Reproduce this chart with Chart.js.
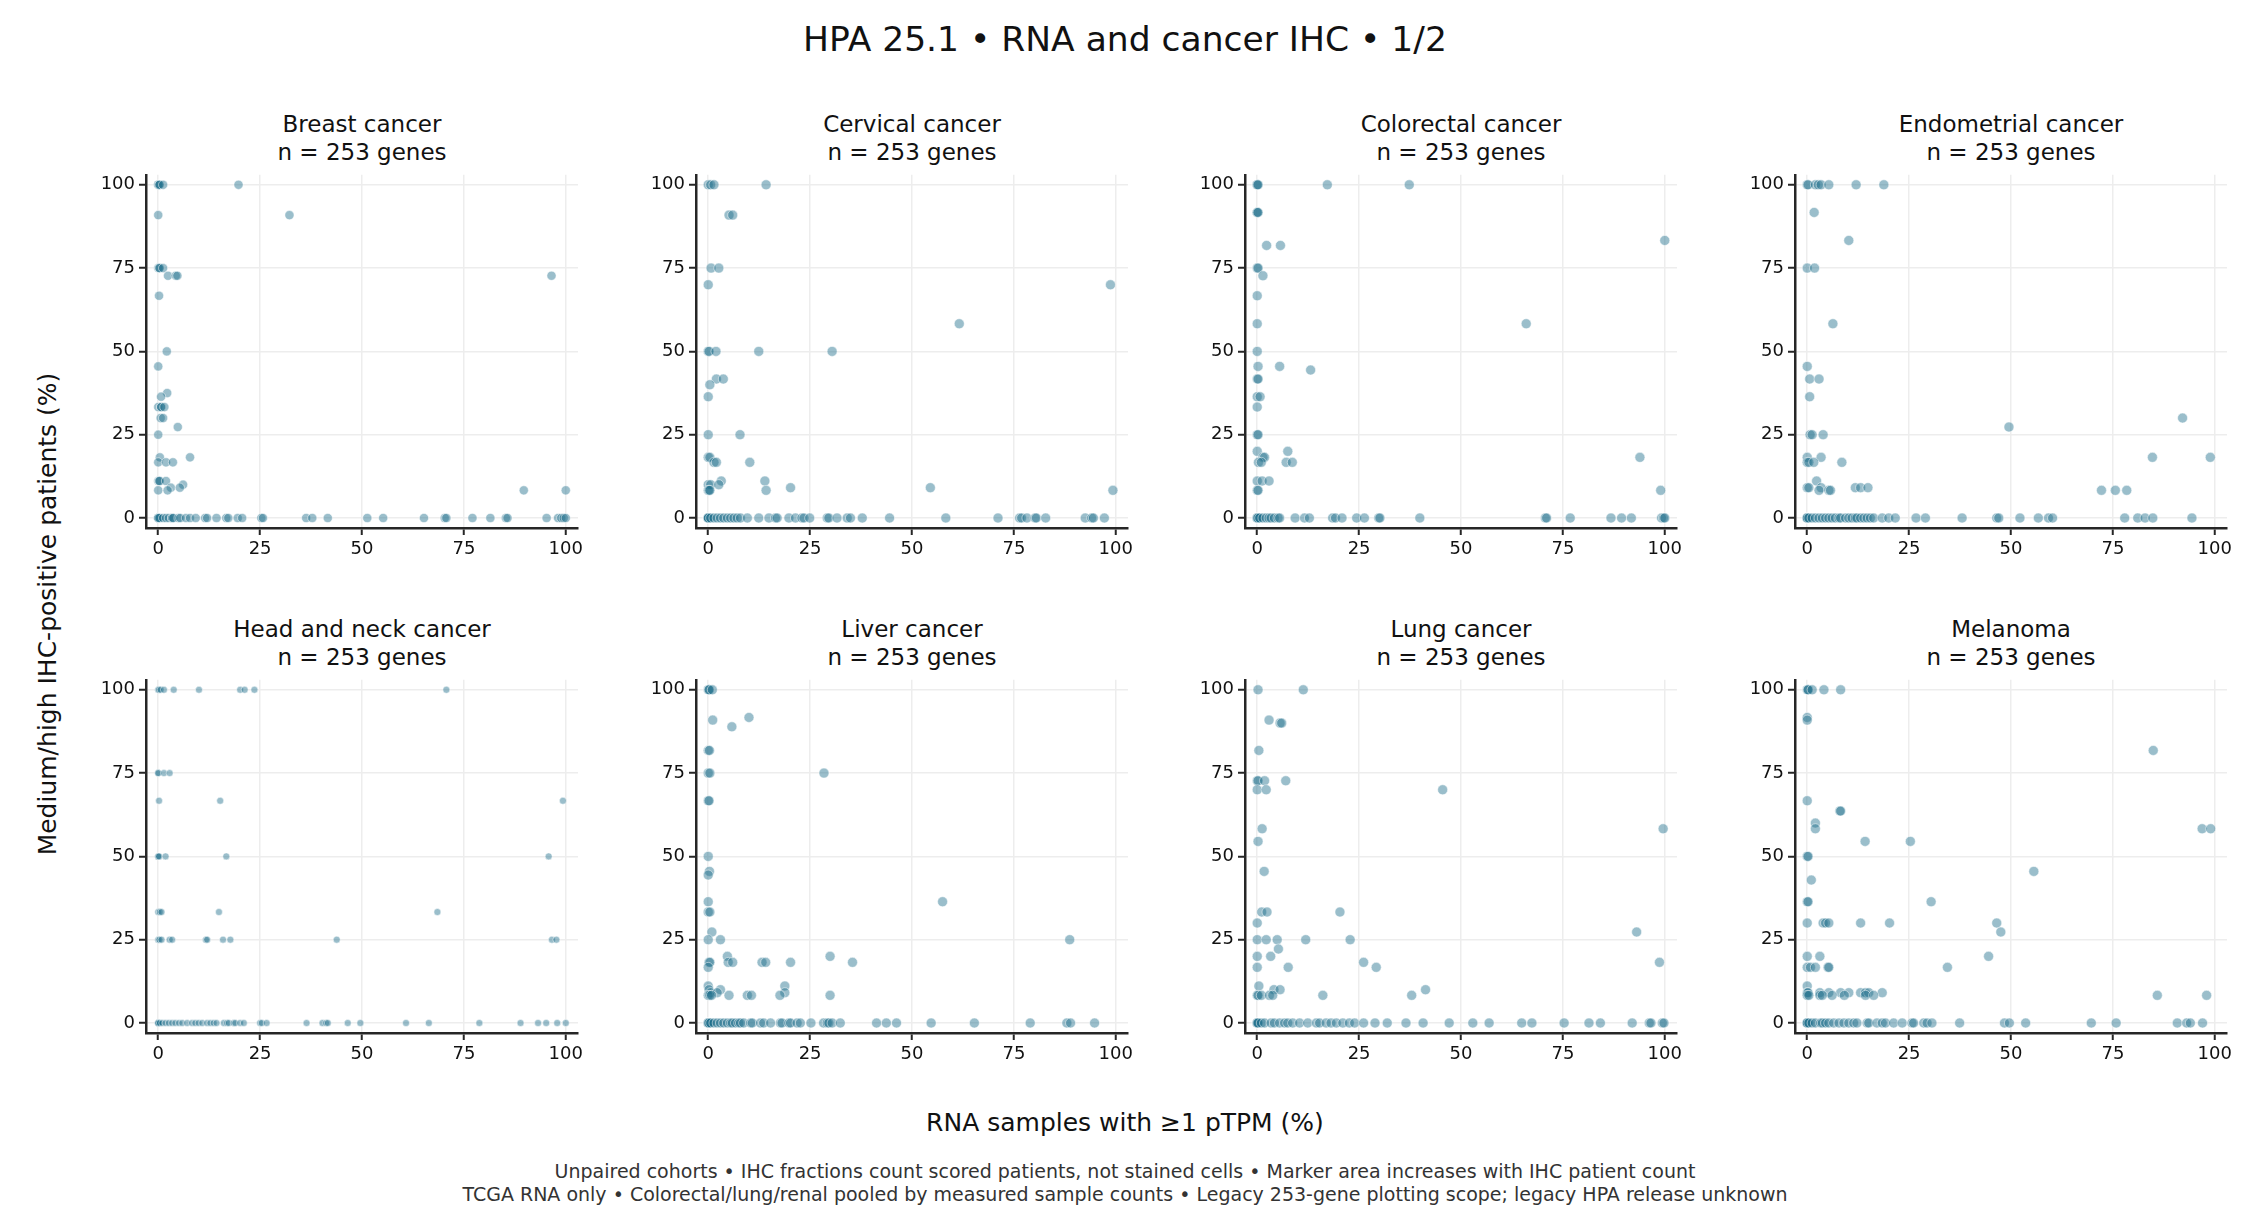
<!DOCTYPE html>
<html>
<head>
<meta charset="utf-8">
<script src="https://cdn.jsdelivr.net/npm/chart.js@4.4.1/dist/chart.umd.min.js"></script>
<style>
  body { margin: 0; background: #fff; font-family: "DejaVu Sans", sans-serif; }
  #fig { position: relative; width: 2250px; height: 1230px; overflow: hidden; background: #fff; }
  .t { position: absolute; white-space: nowrap; transform: translate(-50%, -50%); color: #111; text-align: center; }
  canvas { position: absolute; }
</style>
</head>
<body>
<div id="fig">
  <div class="t" style="left:1125px;top:39px;font-size:34.5px">HPA 25.1 • RNA and cancer IHC • 1/2</div>
  <div class="t" style="left:47px;top:614px;font-size:25px;transform:translate(-50%,-50%) rotate(-90deg)">Medium/high IHC-positive patients (%)</div>
  <div class="t" style="left:1125px;top:1122px;font-size:25px">RNA samples with ≥1 pTPM (%)</div>
  <div class="t" style="left:1125px;top:1171px;font-size:19px;color:#333">Unpaired cohorts • IHC fractions count scored patients, not stained cells • Marker area increases with IHC patient count</div>
  <div class="t" style="left:1125px;top:1194px;font-size:19px;color:#333">TCGA RNA only • Colorectal/lung/renal pooled by measured sample counts • Legacy 253-gene plotting scope; legacy HPA release unknown</div>
</div>
<script>
// panel titles
const cancers = ['Breast cancer', 'Cervical cancer', 'Colorectal cancer', 'Endometrial cancer',
                 'Head and neck cancer', 'Liver cancer', 'Lung cancer', 'Melanoma'];
const geneCounts = [253, 253, 253, 253, 253, 253, 253, 253];
const tickValues = [0, 25, 50, 75, 100];

// [RNA samples with >=1 pTPM (%), IHC-positive patients (%)]
const breast = [
  [0,100],[0,100],[0.3,100],[0.3,100],[1.2,100],[19.7,100],
  [0,90.9],[32.2,90.9],
  [0,75],[0.3,75],[0.3,75],[1.2,75],
  [2.4,72.7],[4.3,72.7],[4.7,72.7],[96.5,72.7],
  [0.2,66.7],[2.1,50],[0,45.5],
  [2.2,37.5],[0.7,36.4],
  [0,33.3],[0.7,33.3],[0.7,33.3],[1.5,33.3],
  [0.6,30],[1.2,30],[4.8,27.3],[0,25],
  [0.4,18.2],[7.8,18.2],
  [0,16.7],[1.9,16.7],[3.6,16.7],
  [0,11.1],[0.3,11.1],[0.3,11.1],[1.9,11.1],
  [6.1,10],[3.1,9.1],[5.3,9.1],
  [0,8.3],[2.3,8.3],[89.7,8.3],[100,8.3],
  [0,0],[0,0],[0,0],[0,0],[0.3,0],[1.2,0],[1.9,0],[2.6,0],[3.4,0],[3.4,0],[3.7,0],[5.0,0],
  [5.4,0],[6.8,0],[7.8,0],[9.2,0],[11.5,0],[12.0,0],[14.3,0],[16.7,0],[17.2,0],[19.5,0],
  [20.6,0],[25.3,0],[25.7,0],[36.3,0],[37.8,0],[41.6,0],[51.3,0],[55.2,0],[65.2,0],[70.3,0],
  [70.7,0],[77.1,0],[81.5,0],[85.3,0],[85.7,0],[95.3,0],[98.1,0],[98.9,0],[99.5,0],[100,0]
];
const cervical = [
  [0,100],[0.6,100],[1.4,100],[14.2,100],
  [5.1,90.9],[6.0,90.9],
  [0.7,75],[2.6,75],[0,70],[98.7,70],[61.6,58.3],
  [0,50],[0.2,50],[1.9,50],[12.4,50],[30.4,50],
  [2.0,41.7],[3.7,41.7],[0.4,40],[0,36.4],
  [0,25],[7.8,25],[0,18.2],[0.4,18.2],
  [1.4,16.7],[2.0,16.7],[10.2,16.7],
  [3.2,11.1],[13.9,11.1],
  [0,10],[0.6,10],[2.6,10],
  [20.2,9.1],[54.5,9.1],
  [0,8.3],[0.2,8.3],[0.4,8.3],[14.2,8.3],[99.3,8.3],
  [0,0],[0,0],[0,0],[0,0],[0.6,0],[1.4,0],[2.2,0],[3.0,0],[3.8,0],[4.7,0],[5.5,0],[6.3,0],
  [7.1,0],[7.9,0],[9.6,0],[12.4,0],[14.9,0],[16.5,0],[16.9,0],[19.8,0],[21.4,0],[23.0,0],
  [23.5,0],[24.9,0],[29.2,0],[29.6,0],[31.6,0],[34.1,0],[34.9,0],[37.8,0],[44.5,0],[58.3,0],
  [71.1,0],[76.4,0],[76.9,0],[78.2,0],[80.2,0],[80.5,0],[82.8,0],[92.5,0],[94.1,0],[94.5,0],[97.2,0]
];
const colorectal = [
  [0,100],[0,100],[0.2,100],[17.2,100],[37.3,100],
  [0,91.7],[0,91.7],[0.2,91.7],
  [100,83.3],[2.3,81.8],[5.7,81.8],
  [0,75],[0.2,75],[1.4,72.7],[0,66.7],
  [0,58.3],[66.0,58.3],[0,50],
  [0.2,45.5],[5.5,45.5],[13.1,44.4],
  [0,41.7],[0.2,41.7],[0,36.4],[0.7,36.4],[0,33.3],
  [0,25],[0.2,25],[0,20],[7.5,20],
  [1.4,18.2],[1.8,18.2],[93.9,18.2],
  [0.3,16.7],[1.0,16.7],[7.1,16.7],[8.6,16.7],
  [0,11.1],[1.2,11.1],[2.9,11.1],
  [0,8.3],[0.2,8.3],[99.0,8.3],
  [0,0],[0,0],[0,0],[0,0],[0.2,0],[0.6,0],[1.4,0],[2.2,0],[2.9,0],[3.4,0],[4.2,0],[5.1,0],
  [5.5,0],[9.3,0],[11.6,0],[12.8,0],[18.5,0],[19.2,0],[20.8,0],[24.4,0],[26.3,0],[29.8,0],
  [30.1,0],[39.9,0],[70.7,0],[71.0,0],[76.8,0],[86.8,0],[89.4,0],[91.8,0],[99.2,0],[99.7,0],[100,0]
];
const endometrial = [
  [0,100],[0.2,100],[2.0,100],[2.7,100],[3.4,100],[5.3,100],[12.0,100],[18.8,100],
  [1.7,91.7],[10.2,83.3],[0,75],[1.8,75],[6.3,58.3],[0,45.5],
  [0.6,41.7],[2.9,41.7],[0.6,36.4],[92.1,30],[49.5,27.3],
  [0.7,25],[1.2,25],[3.9,25],
  [0,18.2],[3.4,18.2],[84.7,18.2],[98.9,18.2],
  [0,16.7],[0.4,16.7],[1.6,16.7],[8.5,16.7],
  [2.3,11.1],
  [0,9.1],[0.4,9.1],[3.4,9.1],[11.8,9.1],[13.1,9.1],[14.9,9.1],
  [2.9,8.3],[5.3,8.3],[5.7,8.3],[72.2,8.3],[75.6,8.3],[78.4,8.3],
  [0,0],[0,0],[0,0],[0,0],[0.4,0],[1.2,0],[2.0,0],[2.9,0],[3.7,0],[4.5,0],[5.3,0],[6.1,0],
  [6.9,0],[7.8,0],[8.2,0],[9.4,0],[10.2,0],[11.0,0],[11.8,0],[12.2,0],[13.1,0],[13.9,0],
  [14.7,0],[15.5,0],[16.3,0],[18.4,0],[20.0,0],[21.6,0],[26.7,0],[29.0,0],[38.0,0],[46.5,0],
  [47.0,0],[52.2,0],[56.7,0],[59.2,0],[60.2,0],[77.9,0],[81.1,0],[82.9,0],[84.8,0],[94.4,0]
];
const headNeck = [
  [0,100],[0.2,100],[0.6,100],[1.4,100],[3.8,100],[10.0,100],[20.1,100],[21.2,100],[23.6,100],[70.7,100],
  [0,75],[0,75],[1.4,75],[2.8,75],
  [0.2,66.7],[15.2,66.7],[99.3,66.7],
  [0,50],[0,50],[0.2,50],[1.8,50],[16.7,50],[95.8,50],
  [0,33.3],[0.4,33.3],[0.8,33.3],[14.9,33.3],[68.5,33.3],
  [0,25],[0.3,25],[0.8,25],[2.8,25],[3.4,25],[11.7,25],[12.0,25],[15.9,25],[17.7,25],
  [43.8,25],[96.6,25],[97.7,25],
  [0,0],[0,0],[0,0],[0,0],[0.4,0],[1.0,0],[1.8,0],[2.6,0],[3.4,0],[4.2,0],[5.1,0],[5.9,0],
  [7.1,0],[8.3,0],[9.1,0],[9.9,0],[10.8,0],[12.0,0],[12.8,0],[13.6,0],[14.3,0],[16.1,0],
  [16.9,0],[17.3,0],[18.5,0],[18.9,0],[20.1,0],[21.0,0],[25.0,0],[25.4,0],[26.6,0],[36.4,0],
  [40.3,0],[41.2,0],[41.6,0],[46.5,0],[49.6,0],[60.8,0],[66.4,0],[78.8,0],[88.9,0],[93.2,0],
  [95.2,0],[97.9,0],[100,0]
];
const liver = [
  [0,100],[0.2,100],[0.2,100],[1.0,100],
  [10.0,91.7],[1.1,90.9],[5.8,88.9],
  [0,81.8],[0.3,81.8],[0,75],[0.4,75],[28.4,75],
  [0,66.7],[0.2,66.7],[0,50],[0.3,45.5],[0,44.4],
  [0,36.4],[57.5,36.4],[0,33.3],[0.4,33.3],[0.9,27.3],
  [0,25],[3.0,25],[88.7,25],[4.7,20],[29.9,20],
  [0.2,18.2],[0.4,18.2],[4.9,18.2],[6.0,18.2],[13.2,18.2],[14.1,18.2],[20.2,18.2],[35.4,18.2],
  [0,16.7],[0,11.1],[18.8,11.1],[0.2,10],[3.0,10],
  [0.6,9.1],[2.2,9.1],[18.8,9.1],
  [0,8.3],[0.4,8.3],[0.8,8.3],[5.1,8.3],[9.6,8.3],[10.6,8.3],[17.6,8.3],[29.9,8.3],
  [0,0],[0,0],[0,0],[0,0],[0.2,0],[0.6,0],[1.4,0],[2.2,0],[3.0,0],[3.8,0],[4.7,0],[5.5,0],
  [5.9,0],[6.7,0],[7.5,0],[7.9,0],[8.7,0],[10.4,0],[10.8,0],[12.8,0],[13.6,0],[15.3,0],
  [17.7,0],[18.1,0],[19.8,0],[20.2,0],[21.8,0],[22.6,0],[25.2,0],[28.3,0],[29.2,0],[29.6,0],
  [30.4,0],[32.4,0],[41.3,0],[43.7,0],[46.2,0],[54.7,0],[65.3,0],[79.0,0],[88.0,0],[88.9,0],[94.8,0]
];
const lung = [
  [0.2,100],[11.3,100],[2.9,90.9],[5.6,90],[6.0,90],[0.4,81.8],
  [0,72.7],[0.2,72.7],[1.8,72.7],[7.0,72.7],
  [0,70],[2.2,70],[45.5,70],[1.2,58.3],[99.6,58.3],[0.2,54.5],[1.7,45.5],
  [1.1,33.3],[2.4,33.3],[20.3,33.3],[0,30],
  [0,25],[2.2,25],[4.9,25],[11.9,25],[22.8,25],[93.1,27.3],[5.2,22.2],
  [0,20],[3.3,20],[26.1,18.2],[98.7,18.2],
  [0,16.7],[7.6,16.7],[29.2,16.7],[0.4,11.1],
  [4.1,10],[5.6,10],[41.3,10],
  [0,8.3],[0.2,8.3],[1.0,8.3],[3.0,8.3],[3.8,8.3],[16.1,8.3],[37.9,8.3],
  [0,0],[0,0],[0,0],[0,0],[0.2,0],[1.0,0],[1.8,0],[3.4,0],[4.2,0],[5.5,0],[6.7,0],[7.5,0],
  [8.7,0],[10.4,0],[12.4,0],[14.5,0],[15.3,0],[16.9,0],[18.1,0],[19.4,0],[21.0,0],[22.6,0],
  [23.9,0],[26.1,0],[28.9,0],[31.9,0],[36.5,0],[40.7,0],[47.1,0],[52.9,0],[56.9,0],[64.9,0],
  [67.4,0],[75.3,0],[81.4,0],[84.2,0],[92.0,0],[96.2,0],[96.6,0],[99.4,0],[99.8,0]
];
const melanoma = [
  [0,100],[0.2,100],[0.2,100],[1.2,100],[4.1,100],[8.2,100],
  [0,91.7],[0,90.9],[84.9,81.8],[0,66.7],
  [8.0,63.6],[8.2,63.6],[2.0,60],[2.0,58.3],[96.9,58.3],[99.0,58.3],
  [14.2,54.5],[25.3,54.5],[0,50],[0.2,50],[55.6,45.5],[1.0,42.9],
  [0,36.4],[0.2,36.4],[30.4,36.4],
  [0,30],[3.9,30],[4.5,30],[5.3,30],[13.1,30],[20.2,30],[46.5,30],[47.5,27.3],
  [0,20],[3.1,20],[44.5,20],
  [0,16.7],[0.8,16.7],[2.0,16.7],[5.1,16.7],[5.3,16.7],[34.4,16.7],
  [0,11.1],
  [0,9.1],[0.2,9.1],[3.1,9.1],[5.3,9.1],[8.2,9.1],[10.2,9.1],[13.1,9.1],[14.3,9.1],[15.1,9.1],[18.4,9.1],
  [0,8.3],[0.4,8.3],[3.1,8.3],[3.7,8.3],[6.1,8.3],[9.1,8.3],[14.3,8.3],[16.3,8.3],[85.9,8.3],[98.0,8.3],
  [0,0],[0,0],[0,0],[0,0],[0.4,0],[1.2,0],[2.0,0],[3.3,0],[3.7,0],[4.5,0],[5.3,0],[6.5,0],
  [7.8,0],[9.0,0],[10.2,0],[11.4,0],[12.2,0],[14.7,0],[15.1,0],[17.1,0],[18.4,0],[19.2,0],
  [21.2,0],[23.3,0],[25.7,0],[26.1,0],[28.6,0],[29.4,0],[30.6,0],[37.4,0],[48.4,0],[49.6,0],
  [53.6,0],[69.7,0],[75.8,0],[90.8,0],[93.1,0],[94.0,0],[97.0,0]
];
const panels = [breast, cervical, colorectal, endometrial, headNeck, liver, lung, melanoma];

// layout (px)
const colLeft = [146, 696, 1245, 1795];
const rowTop = [172, 677];
const axW = 432, axH = 356;
const yAxW = 70, xAxH = 40, padT = 12, padR = 22;
const markerRadius = [4.6, 5, 5, 5, 3.5, 5, 5, 5];
const ink = '#262626';

const fig = document.getElementById('fig');

panels.forEach((pts, i) => {
  const left = colLeft[i % 4], top = rowTop[Math.floor(i / 4)];

  const title = document.createElement('div');
  title.className = 't';
  title.style.cssText = `left:${left + axW / 2}px;top:${top - 34}px;font-size:23px;line-height:28px`;
  title.innerHTML = `${cancers[i]}<br>n = ${geneCounts[i]} genes`;
  fig.appendChild(title);

  const cv = document.createElement('canvas');
  cv.width = yAxW + axW + padR;
  cv.height = padT + axH + xAxH;
  cv.style.left = (left - yAxW) + 'px';
  cv.style.top = (top - padT) + 'px';
  fig.appendChild(cv);

  const axis = (fit) => ({
    type: 'linear', min: -3, max: 103,
    afterBuildTicks: s => { s.ticks = tickValues.map(v => ({value: v})); },
    afterFit: fit,
    grid: {color: '#ededed', lineWidth: 1.5, tickColor: ink, tickLength: 7, tickWidth: 2},
    border: {color: ink, width: 2.5},
    ticks: {font: {family: 'DejaVu Sans', size: 18}, color: '#111', padding: 4, maxRotation: 0}
  });

  new Chart(cv, {
    type: 'scatter',
    data: {datasets: [{
      data: pts.map(p => ({x: p[0], y: p[1]})),
      backgroundColor: 'rgba(31,111,139,0.45)',
      borderColor: 'rgba(255,255,255,0.5)',
      borderWidth: 1,
      pointRadius: markerRadius[i],
      pointHoverRadius: markerRadius[i]
    }]},
    options: {
      responsive: false, animation: false, events: [],
      layout: {padding: {top: padT, right: padR, left: 0, bottom: 0}},
      plugins: {legend: {display: false}, tooltip: {enabled: false}, title: {display: false}},
      scales: {
        x: axis(s => { s.height = xAxH; }),
        y: axis(s => { s.width = yAxW; })
      }
    }
  });
});
</script>
</body>
</html>
